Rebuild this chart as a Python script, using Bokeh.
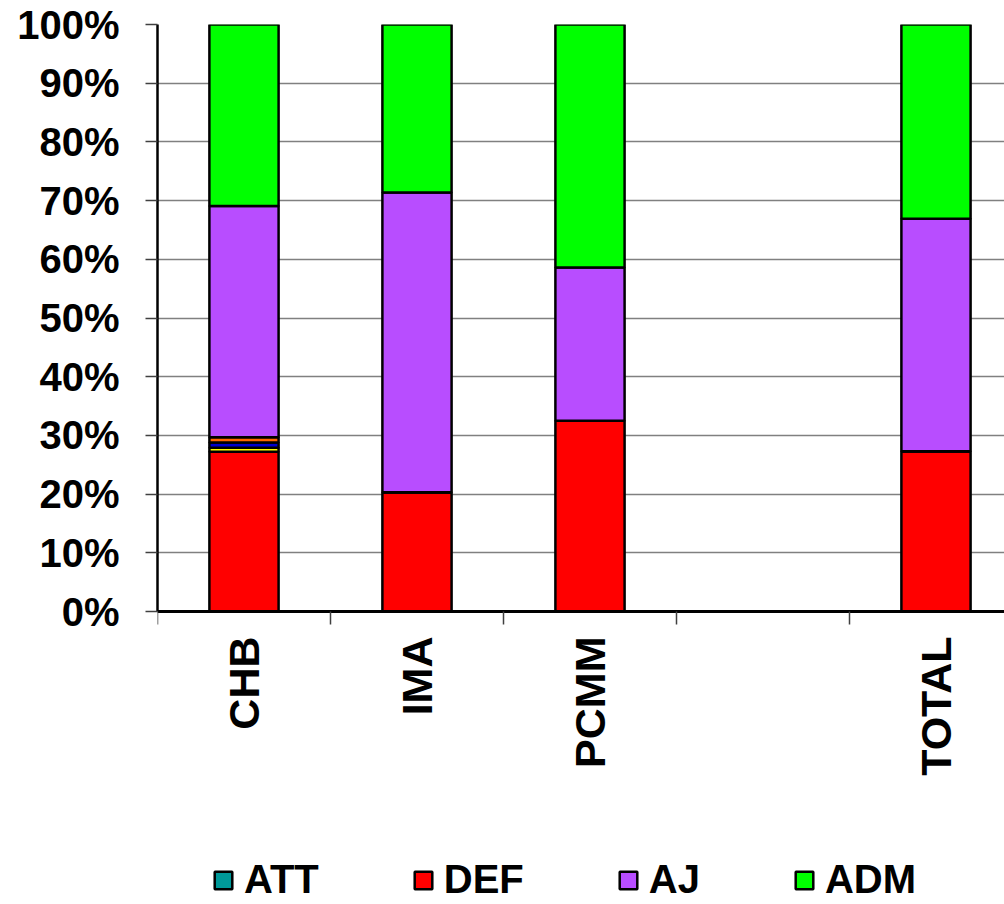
import math
import numpy as np
from bokeh.plotting import figure
from bokeh.models import Range1d, FixedTicker, Legend, LegendItem, ColumnDataSource
from bokeh.embed import file_html
from bokeh.resources import INLINE

# ---- data ----
slots = ["CHB", "IMA", "PCMM", "", "TOTAL"]
categories = ["CHB", "IMA", "PCMM", "TOTAL"]
ATT = [0.0, 0.0, 0.0, 0.0]
DEF = [27.2, 20.3, 32.5, 27.3]
S_YEL = [0.7, 0.0, 0.0, 0.0]
S_BLU = [0.9, 0.0, 0.0, 0.0]
S_ORA = [0.9, 0.0, 0.0, 0.0]
AJ = [39.4, 51.1, 26.1, 39.6]
ADM = [30.9, 28.6, 41.4, 33.1]
y_ticks = [0, 10, 20, 30, 40, 50, 60, 70, 80, 90, 100]
y_tick_labels = ["0%", "10%", "20%", "30%", "40%", "50%", "60%", "70%", "80%", "90%", "100%"]

series = [
    ("ATT", ATT, "#009999", True),
    ("DEF", DEF, "#FF0000", True),
    ("S1", S_YEL, "#FFFF00", False),
    ("S2", S_BLU, "#0000CC", False),
    ("S3", S_ORA, "#FF6600", False),
    ("AJ", AJ, "#B84DFF", True),
    ("ADM", ADM, "#00FF00", True),
]

x_pos = [slots.index(c) + 0.5 for c in categories]

FONT = "Liberation Sans"

# frame extends to the bottom of the page; value 0 sits 293px above it
FRAME_H = 880
PLOT_H = 587
y_low = -100.0 * (FRAME_H - PLOT_H) / PLOT_H

p = figure(frame_width=847, frame_height=FRAME_H, output_backend="svg", toolbar_location=None,
           x_range=Range1d(0, 4.896), y_range=Range1d(y_low, 100),
           min_border_left=157, min_border_top=24, min_border_right=0,
           min_border_bottom=0)
p.outline_line_color = None
p.background_fill_color = "white"
p.border_fill_color = "white"

bottom = np.zeros(len(categories))
renderers = {}
for name, vals, color, _ in series:
    vals = np.array(vals, dtype=float)
    top = bottom + vals
    src = ColumnDataSource(dict(x=x_pos, bottom=bottom.copy(), top=top.copy()))
    r = p.vbar(x="x", bottom="bottom", top="top", width=0.4, source=src,
               fill_color=color, line_color="black", line_width=2.5)
    renderers[name] = r
    bottom = top

# y axis
p.yaxis.ticker = FixedTicker(ticks=y_ticks)
p.yaxis.bounds = (0, 100)
p.yaxis.major_label_overrides = {t: l for t, l in zip(y_ticks, y_tick_labels)}
p.yaxis.major_label_text_font = FONT
p.yaxis.major_label_text_font_style = "bold"
p.yaxis.major_label_text_font_size = "40px"
p.yaxis.major_label_text_color = "black"
p.yaxis.major_tick_out = 12
p.yaxis.major_tick_in = 0
p.yaxis.major_tick_line_color = "#404040"
p.yaxis.major_tick_line_width = 1.5
p.yaxis.minor_tick_line_color = None
p.yaxis.axis_line_color = "black"
p.yaxis.axis_line_width = 2.5
p.yaxis.major_label_standoff = 26

# x axis, fixed at value 0
p.xaxis.fixed_location = 0
p.xaxis.ticker = FixedTicker(ticks=x_pos, minor_ticks=[0, 1, 2, 3, 4, 5])
p.xaxis.major_label_overrides = {x: c for x, c in zip(x_pos, categories)}
p.xaxis.major_label_orientation = math.pi / 2
p.xaxis.major_label_text_font = FONT
p.xaxis.major_label_text_font_style = "bold"
p.xaxis.major_label_text_font_size = "43px"
p.xaxis.major_label_text_color = "black"
p.xaxis.major_tick_out = 0
p.xaxis.major_tick_in = 0
p.xaxis.major_tick_line_color = None
p.xaxis.minor_tick_out = 13
p.xaxis.minor_tick_in = 0
p.xaxis.minor_tick_line_color = "#404040"
p.xaxis.minor_tick_line_width = 1.5
p.xaxis.axis_line_color = "black"
p.xaxis.axis_line_width = 3
p.xaxis.major_label_standoff = 12

# grid
p.xgrid.grid_line_color = None
p.ygrid.ticker = FixedTicker(ticks=y_ticks)
p.ygrid.bounds = (0, 100)
p.ygrid.grid_line_color = "#808080"
p.ygrid.grid_line_width = 1.5

items = [LegendItem(label=name, renderers=[renderers[name]])
         for name, _, _, show in series if show]
legend = Legend(items=items, orientation="horizontal", location=(55, 2),
                label_text_font=FONT, label_text_font_style="bold",
                label_text_font_size="40px", label_text_color="black",
                label_text_line_height=1.0,
                glyph_width=22, glyph_height=22, label_standoff=10, spacing=93,
                padding=0, margin=0, border_line_color=None,
                background_fill_alpha=0)
p.add_layout(legend, "center")

open("out.html", "w").write(file_html(p, INLINE))
